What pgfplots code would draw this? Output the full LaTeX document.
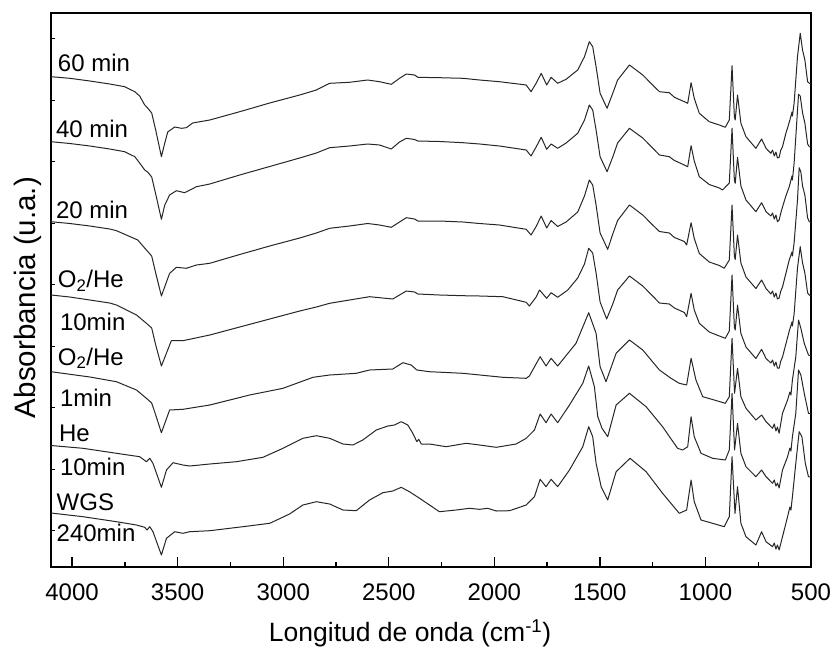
\documentclass[border=0pt]{standalone}
\usepackage{fontspec}
\setmainfont{Liberation Sans}
\usepackage{pgfplots}
\pgfplotsset{compat=1.18}
\begin{document}
\begin{tikzpicture}
\useasboundingbox (0,0) rectangle (834pt,649pt);
\begin{axis}[
  at={(51pt,82pt)}, anchor=south west,
  scale only axis, width=760pt, height=554pt,
  x dir=reverse, xmin=500, xmax=4100, ymin=-567, ymax=-13,
  axis line style={line width=1.4pt},
  xtick={500,1000,...,4000},
  minor xtick={750,1250,...,3750},
  ytick=\empty,
  extra y ticks={-530.7,-469.2,-407.7,-346.2,-284.7,-223.2,-161.7,-100.2,-38.7},
  extra y tick labels={},
  extra y tick style={major tick length=4.5pt},
  xtick pos=left, ytick pos=left,
  tick align=inside,
  major tick length=10.5pt, minor tick length=5.5pt,
  every tick/.style={black, line width=1.3pt},
  tick label style={font=\fontsize{24}{28}\selectfont},
  /pgf/number format/assume math mode=true,
  /pgf/number format/1000 sep={},
  xticklabel style={anchor=base, yshift=-33.5pt},
  xlabel={Longitud de onda (cm\textsuperscript{-1})},
  xlabel style={at={(axis description cs:0.4724,-0.1348)}, anchor=base, font=\fontsize{26.5}{30}\selectfont},
  ylabel={Absorbancia (u.a.)},
  ylabel style={at={(axis description cs:-0.021,0.4865)}, anchor=base, font=\fontsize{29.5}{33}\selectfont},
  every axis plot post/.append style={black!85, solid, line width=1pt, line join=round, line cap=round},
  no markers, clip=true,
]
% 60 min
\addplot coordinates {
(4100,-76.7) (4011,-78.3) (3916,-81) (3822,-84) (3751,-86.7) (3703,-91.7) (3680,-96) (3656,-105)
(3642,-108) (3623,-113) (3604,-130) (3577,-156.7) (3561,-143) (3547,-132) (3514,-127) (3482,-128.3)
(3459,-127.7) (3429,-123) (3348,-120) (3206,-111.7) (3064,-103) (2922,-95) (2843,-90) (2780,-83.3)
(2686,-82.3) (2600,-80) (2544,-81.7) (2488,-84.3) (2449,-78.3) (2417,-74) (2378,-75) (2362,-77.3)
(2260,-77.7) (2149,-78.3) (2070,-80) (1976,-81.7) (1849,-85) (1826,-91.7) (1802,-83.3) (1778,-73.3)
(1752,-85) (1731,-77.3) (1700,-83.3) (1660,-79.3) (1605,-70) (1573,-56.7) (1550,-41.7) (1534,-46.7)
(1518,-66.7) (1499,-93.3) (1466,-108.3) (1439,-93.3) (1416,-80) (1360,-65) (1297,-75) (1250,-85)
(1218,-91.7) (1171,-92.7) (1147,-97.3) (1100,-101.7) (1084,-103.3) (1068,-82.7) (1053,-98.3) (1029,-113.3)
(982,-121.7) (934,-125) (906,-127.3) (887,-120) (874,-65.7) (863,-116.7) (859,-120) (848,-95)
(832,-123.3) (808,-136.7) (761,-148.3) (734,-139) (713,-148.3) (690,-153.3) (682,-150) (674,-156)
(666,-152) (659,-158) (651,-157.3) (643,-150) (635,-146.7) (619,-133.3) (611,-128) (600,-120)
(590,-112) (588,-116) (580,-103.3) (564,-56.7) (551,-33.3) (540,-50) (529,-60) (516,-81.7)
(508,-83.3) (500,-84)
};
% 40 min
\addplot coordinates {
(4100,-141.7) (4011,-143.5) (3916,-146) (3822,-149) (3751,-151.7) (3703,-156.7) (3680,-163) (3656,-170)
(3642,-172) (3623,-177) (3604,-194) (3577,-219.3) (3561,-205) (3538,-195) (3506,-190.7) (3467,-192.7)
(3411,-186.7) (3348,-184) (3206,-175) (3064,-166.5) (2922,-158) (2843,-153) (2780,-147.7) (2686,-146)
(2600,-144) (2544,-145) (2488,-149) (2449,-142) (2417,-138.3) (2378,-139.5) (2362,-141) (2260,-141.5)
(2149,-142.7) (2070,-144) (1976,-146) (1849,-150) (1826,-156) (1802,-147) (1778,-137.3) (1752,-149.3)
(1731,-144) (1700,-148.3) (1660,-143) (1605,-133.3) (1573,-120) (1550,-105) (1534,-110) (1518,-130)
(1499,-156.7) (1466,-171.7) (1439,-157) (1416,-143) (1360,-128.3) (1297,-138) (1250,-148) (1218,-155)
(1171,-156.7) (1147,-160.5) (1100,-165) (1084,-166.7) (1068,-145.7) (1053,-161) (1029,-176.7) (982,-184.5)
(934,-188) (919,-190) (887,-183) (874,-128.3) (863,-180) (859,-183.3) (848,-157.3) (832,-186)
(808,-200) (761,-211.7) (734,-202.7) (713,-211.7) (690,-216) (682,-213) (674,-219) (666,-215)
(659,-221.7) (651,-220) (643,-213) (635,-207) (619,-196) (603,-186.7) (590,-176) (588,-180)
(580,-163.3) (559,-94.3) (551,-96) (540,-113) (529,-123) (516,-144) (508,-146.7) (500,-147)
};
% 20 min
\addplot coordinates {
(4100,-221.7) (4011,-223.5) (3916,-226) (3822,-229) (3790,-230.7) (3689,-240) (3648,-250) (3623,-256)
(3604,-273) (3577,-296) (3538,-273.3) (3506,-267.3) (3459,-268.3) (3411,-265) (3348,-263.3) (3206,-254.5)
(3064,-246) (2922,-238) (2843,-233) (2780,-228.3) (2686,-226) (2600,-223.5) (2544,-225) (2488,-227.3)
(2449,-222) (2417,-217.7) (2378,-219) (2362,-221) (2260,-221) (2149,-222) (2070,-223.5) (1976,-225)
(1849,-229.3) (1826,-235) (1802,-226.5) (1778,-216) (1752,-228) (1731,-220.5) (1700,-226.5) (1660,-222)
(1605,-212) (1573,-196) (1550,-180) (1534,-185) (1518,-205) (1499,-233) (1463,-249.3) (1439,-234)
(1416,-220.5) (1360,-205) (1297,-215) (1250,-225) (1218,-231.5) (1171,-233) (1147,-237.5) (1100,-241.5)
(1089,-245) (1068,-222.7) (1053,-238.5) (1029,-253.5) (982,-262) (934,-265.5) (911,-268.3) (887,-260)
(874,-205) (863,-256) (859,-259.5) (848,-235) (832,-263) (808,-277) (761,-288.5) (734,-280)
(713,-288.5) (690,-294) (682,-291) (674,-297) (666,-293) (659,-299) (651,-298) (643,-291)
(635,-287) (619,-273.5) (603,-260) (590,-252) (588,-256) (580,-243) (564,-200) (556,-167.7)
(548,-172) (540,-186) (529,-195) (516,-218) (508,-221.7) (500,-222)
};
% O2/He 10 min
\addplot coordinates {
(4100,-295) (4011,-297) (3916,-300) (3822,-303) (3790,-305) (3695,-315) (3648,-323.3) (3623,-328)
(3604,-345) (3577,-366) (3530,-340.7) (3475,-340.7) (3348,-335) (3206,-327) (3064,-319) (2922,-311)
(2843,-307) (2780,-303.3) (2686,-300) (2591,-296.7) (2481,-299) (2417,-291) (2378,-292) (2362,-294)
(2260,-295) (2149,-295.7) (2070,-296) (1960,-296.7) (1849,-302.3) (1834,-306) (1802,-297) (1786,-290)
(1752,-298.3) (1731,-292.7) (1700,-297.3) (1652,-290) (1605,-278) (1573,-264) (1553,-248.3) (1534,-253)
(1518,-273) (1499,-302) (1468,-319) (1439,-304) (1416,-290) (1360,-276) (1297,-286) (1250,-296)
(1218,-303) (1171,-304) (1147,-308) (1100,-312.5) (1089,-316.7) (1068,-293.3) (1053,-310) (1029,-323.3)
(982,-332) (934,-336) (906,-338.3) (887,-331) (874,-275) (863,-327) (859,-330) (848,-305)
(832,-333.5) (808,-347) (761,-358.5) (734,-349.3) (713,-358.5) (690,-363) (682,-360) (674,-366)
(666,-362) (659,-368) (651,-368.3) (643,-361) (635,-357) (619,-344) (603,-331) (590,-322)
(588,-326) (580,-314) (564,-268) (551,-246.7) (540,-263) (529,-273) (516,-293) (508,-295) (500,-296)
};
% O2/He 1 min
\addplot coordinates {
(4100,-371.7) (3916,-377) (3790,-381.7) (3695,-390) (3648,-398.3) (3623,-403) (3604,-415) (3577,-432.7)
(3538,-410) (3475,-409.3) (3348,-405) (3159,-395) (3001,-388.3) (2859,-377.3) (2780,-375) (2654,-373.3)
(2591,-370) (2481,-369) (2433,-362.7) (2394,-365) (2367,-370) (2307,-371.7) (2149,-373.3) (1960,-377.3)
(1849,-378.3) (1834,-376) (1783,-356.7) (1755,-366) (1731,-358.3) (1700,-366) (1613,-343.3) (1553,-312.7)
(1518,-333.3) (1499,-366.7) (1471,-381.7) (1423,-353.3) (1360,-340) (1297,-350) (1218,-370) (1163,-378.3)
(1124,-383.3) (1089,-385) (1068,-358.3) (1045,-380) (1013,-396.7) (958,-400) (906,-403.3) (887,-396.7)
(874,-338.3) (862,-393.3) (848,-368.3) (832,-396.7) (808,-408.3) (761,-420) (734,-415) (713,-421.7)
(682,-428.3) (674,-424) (666,-431) (659,-427) (651,-433.3) (635,-413.3) (611,-400) (600,-392)
(595,-395) (588,-380) (572,-356.7) (559,-320) (548,-328.3) (532,-343.3) (512,-355) (500,-356)
};
% He 10 min
\addplot coordinates {
(4100,-445.5) (3948,-448.3) (3790,-453.3) (3680,-456.7) (3648,-461.7) (3632,-458.3) (3617,-463.3) (3577,-487.3)
(3553,-470) (3522,-462.7) (3475,-465) (3443,-466) (3348,-464) (3222,-461.7) (3096,-457.3) (3001,-448.3)
(2907,-438.3) (2843,-435.7) (2780,-438.3) (2717,-444) (2670,-445) (2623,-440) (2559,-430) (2504,-426)
(2473,-425) (2441,-421.7) (2410,-425) (2386,-433.3) (2367,-441.7) (2358,-439.3) (2346,-444) (2307,-444)
(2228,-446.7) (2133,-443.3) (2070,-445) (1991,-447.3) (1897,-444) (1849,-438.3) (1810,-430) (1783,-414)
(1755,-422.7) (1731,-414) (1700,-422.7) (1644,-405) (1581,-383.3) (1553,-366) (1526,-386.7) (1510,-416.7)
(1490,-428.3) (1463,-436.7) (1423,-405) (1360,-393.3) (1281,-406.7) (1203,-426.7) (1132,-448.3) (1108,-450)
(1084,-446.7) (1068,-416.7) (1053,-436.7) (1021,-453.3) (966,-458.3) (906,-460) (887,-450) (874,-393.3)
(862,-450) (848,-423.3) (832,-453.3) (808,-466.7) (761,-476.7) (734,-470) (713,-476.7) (682,-483.3)
(674,-480) (666,-486) (659,-483) (651,-488) (635,-470) (611,-456.7) (600,-448) (595,-451)
(588,-436.7) (572,-413.3) (559,-370) (548,-375) (532,-393.3) (512,-413.3) (500,-414)
};
% WGS 240 min
\addplot coordinates {
(4100,-513) (3948,-516.7) (3790,-521.7) (3695,-525) (3656,-527.3) (3645,-530) (3632,-526.7) (3617,-531.7)
(3577,-555) (3553,-538.3) (3514,-531.7) (3475,-533.3) (3443,-531.7) (3348,-530.7) (3191,-526.7) (3064,-523.3)
(2970,-514) (2907,-505) (2843,-501.7) (2780,-504) (2717,-510) (2654,-510.7) (2591,-500) (2528,-492.7)
(2481,-491) (2441,-487.3) (2402,-491.7) (2354,-498.3) (2307,-505) (2260,-511.7) (2181,-510) (2118,-508.3)
(2070,-509.3) (2031,-508.3) (1991,-511) (1928,-510.7) (1849,-505) (1810,-496.7) (1783,-479.3) (1755,-486.7)
(1731,-479.3) (1700,-486.7) (1644,-470) (1581,-446.7) (1553,-426.7) (1534,-436.7) (1518,-463.3) (1494,-486.7)
(1463,-500) (1423,-471.7) (1357,-458.3) (1281,-471.7) (1203,-493.3) (1124,-513.3) (1089,-510) (1068,-480)
(1053,-501.7) (1021,-520) (966,-523.3) (911,-526.7) (887,-516.7) (874,-456.7) (860,-513.3) (848,-486.7)
(832,-523.3) (808,-536.7) (761,-545) (734,-531.7) (713,-541.7) (682,-546.7) (674,-543) (666,-549)
(659,-545) (651,-550) (635,-536.7) (611,-516.7) (600,-507) (595,-510) (588,-496.7) (572,-463.3)
(556,-431.7) (543,-436.7) (527,-463.3) (512,-476.7) (500,-477)
};
% trace labels
\begin{scope}[every node/.style={anchor=base west, inner sep=0pt, font=\fontsize{24}{28}\selectfont}]
\node at (axis cs:4068,-72) {60 min};
\node at (axis cs:4077,-137.3) {40 min};
\node at (axis cs:4077,-218.3) {20 min};
\node at (axis cs:4068,-287.3) {O\textsubscript{2}/He};
\node at (axis cs:4058,-330) {10min};
\node at (axis cs:4068,-365) {O\textsubscript{2}/He};
\node at (axis cs:4058,-406.7) {1min};
\node at (axis cs:4063,-441.7) {He};
\node at (axis cs:4058,-475) {10min};
\node at (axis cs:4074,-510) {WGS};
\node at (axis cs:4074,-541.7) {240min};
\end{scope}
\end{axis}
\end{tikzpicture}
\end{document}
